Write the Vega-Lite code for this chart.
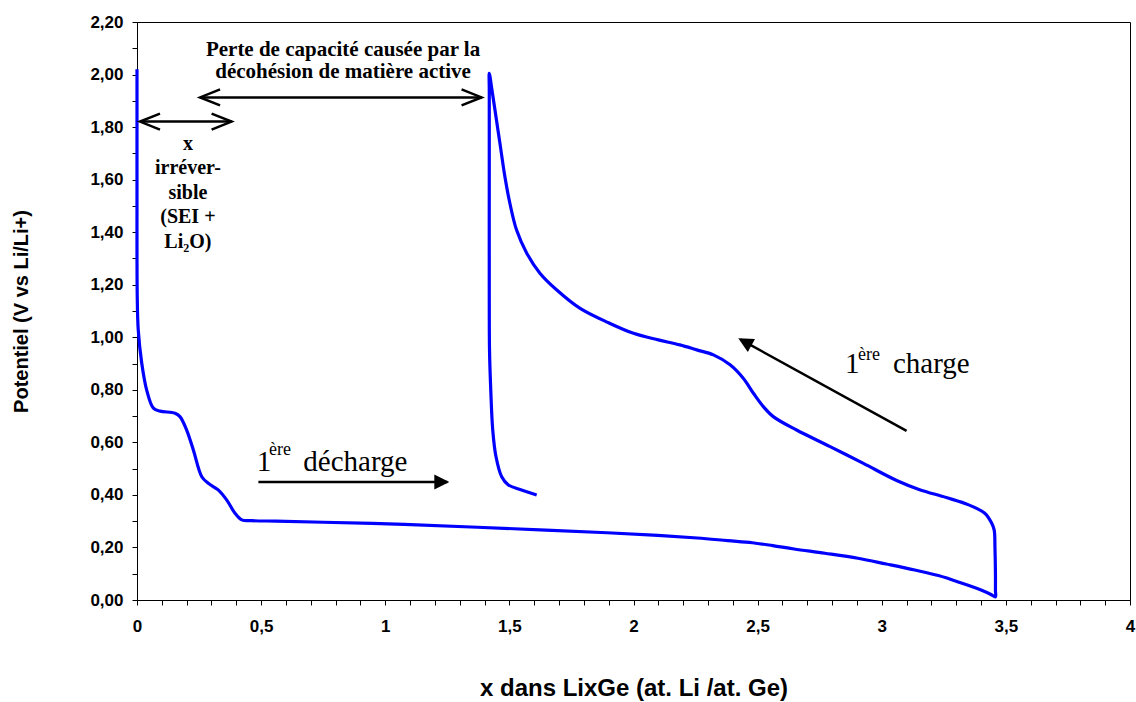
{
  "$schema": "https://vega.github.io/schema/vega-lite/v6.json",
  "width": 993,
  "height": 578,
  "autosize": {"type": "none"},
  "padding": {"left": 137, "top": 22, "right": 6, "bottom": 102},
  "background": "white",
  "config": {
    "view": {"stroke": "black", "strokeWidth": 1},
    "axis": {
      "labelFont": "Liberation Sans", "labelFontWeight": "bold", "labelFontSize": 17, "labelColor": "black",
      "titleFont": "Liberation Sans", "titleFontWeight": "bold", "titleColor": "black",
      "domainColor": "black", "tickColor": "black", "tickSize": 5, "grid": false,
      "labelOverlap": false, "labelFlush": false, "labelBound": false
    }
  },
  "datasets": {
    "curve": [
      {"i": 0, "x": 0, "y": 2.02}, {"i": 0.5, "x": 0, "y": 1.9}, {"i": 1, "x": 0, "y": 1.6}, {"i": 2, "x": 0.001, "y": 1.155},
      {"i": 3, "x": 0.005, "y": 1.028}, {"i": 4, "x": 0.019, "y": 0.902}, {"i": 5, "x": 0.039, "y": 0.799},
      {"i": 6, "x": 0.066, "y": 0.73}, {"i": 7, "x": 0.093, "y": 0.719}, {"i": 8, "x": 0.153, "y": 0.711},
      {"i": 9, "x": 0.173, "y": 0.698}, {"i": 10, "x": 0.2, "y": 0.647}, {"i": 11, "x": 0.227, "y": 0.571},
      {"i": 12, "x": 0.261, "y": 0.469}, {"i": 13, "x": 0.287, "y": 0.444}, {"i": 14, "x": 0.327, "y": 0.419},
      {"i": 15, "x": 0.361, "y": 0.381}, {"i": 16, "x": 0.395, "y": 0.33}, {"i": 17, "x": 0.422, "y": 0.305},
      {"i": 17.3, "x": 0.46, "y": 0.302}, {"i": 17.6, "x": 0.56, "y": 0.3},
      {"i": 18, "x": 0.75, "y": 0.296}, {"i": 19, "x": 1.076, "y": 0.288}, {"i": 20, "x": 1.371, "y": 0.277},
      {"i": 21, "x": 1.647, "y": 0.266}, {"i": 22, "x": 1.894, "y": 0.256}, {"i": 23, "x": 2.098, "y": 0.246},
      {"i": 24, "x": 2.257, "y": 0.236}, {"i": 25, "x": 2.38, "y": 0.226}, {"i": 26, "x": 2.479, "y": 0.218},
      {"i": 27, "x": 2.561, "y": 0.207}, {"i": 28, "x": 2.647, "y": 0.194}, {"i": 29, "x": 2.771, "y": 0.178},
      {"i": 30, "x": 2.904, "y": 0.159}, {"i": 31, "x": 3.018, "y": 0.137}, {"i": 32, "x": 3.133, "y": 0.114},
      {"i": 33, "x": 3.228, "y": 0.093}, {"i": 34, "x": 3.323, "y": 0.064}, {"i": 35, "x": 3.4, "y": 0.038},
      {"i": 35.5, "x": 3.44, "y": 0.021},
      {"i": 36, "x": 3.458, "y": 0.012}, {"i": 36.5, "x": 3.458, "y": 0.035}, {"i": 37, "x": 3.458, "y": 0.1}, {"i": 38, "x": 3.456, "y": 0.2},
      {"i": 39, "x": 3.453, "y": 0.266}, {"i": 40, "x": 3.443, "y": 0.292}, {"i": 41, "x": 3.415, "y": 0.33},
      {"i": 42, "x": 3.35, "y": 0.362}, {"i": 43, "x": 3.26, "y": 0.39}, {"i": 44, "x": 3.15, "y": 0.421},
      {"i": 45, "x": 3.06, "y": 0.455}, {"i": 46, "x": 2.926, "y": 0.52}, {"i": 47, "x": 2.792, "y": 0.584},
      {"i": 48, "x": 2.657, "y": 0.647}, {"i": 49, "x": 2.563, "y": 0.698}, {"i": 50, "x": 2.523, "y": 0.736},
      {"i": 51, "x": 2.483, "y": 0.787}, {"i": 52, "x": 2.442, "y": 0.844}, {"i": 53, "x": 2.389, "y": 0.895},
      {"i": 54, "x": 2.322, "y": 0.933}, {"i": 55, "x": 2.255, "y": 0.952}, {"i": 56, "x": 2.187, "y": 0.971},
      {"i": 57, "x": 2.1, "y": 0.99}, {"i": 58, "x": 2.0, "y": 1.015}, {"i": 59, "x": 1.9, "y": 1.055},
      {"i": 60, "x": 1.785, "y": 1.11}, {"i": 61, "x": 1.691, "y": 1.18}, {"i": 62, "x": 1.623, "y": 1.244},
      {"i": 63, "x": 1.57, "y": 1.32}, {"i": 64, "x": 1.529, "y": 1.408}, {"i": 65, "x": 1.502, "y": 1.51},
      {"i": 66, "x": 1.482, "y": 1.611}, {"i": 67, "x": 1.462, "y": 1.738}, {"i": 68, "x": 1.442, "y": 1.865},
      {"i": 68.5, "x": 1.43, "y": 1.94},
      {"i": 69, "x": 1.419, "y": 2.005}, {"i": 69.5, "x": 1.419, "y": 1.94}, {"i": 70, "x": 1.419, "y": 1.6}, {"i": 71, "x": 1.419, "y": 1.18},
      {"i": 72, "x": 1.42, "y": 0.952}, {"i": 73, "x": 1.425, "y": 0.8}, {"i": 74, "x": 1.433, "y": 0.647},
      {"i": 75, "x": 1.446, "y": 0.546}, {"i": 76, "x": 1.469, "y": 0.469}, {"i": 77, "x": 1.496, "y": 0.438},
      {"i": 78, "x": 1.543, "y": 0.421}, {"i": 79, "x": 1.61, "y": 0.4}
    ],
    "arrowLines": [
      {"x": 0.012, "y": 1.821, "x2": 0.381, "y2": 1.821},
      {"x": 0.254, "y": 1.913, "x2": 1.388, "y2": 1.913},
      {"x": 0.489, "y": 0.449, "x2": 1.25, "y2": 0.449},
      {"x": 3.1, "y": 0.644, "x2": 2.432, "y2": 0.991}
    ],
    "tipsLeft": [{"x": 0.012, "y": 1.821}, {"x": 0.254, "y": 1.913}],
    "tipsRight": [{"x": 0.381, "y": 1.821}, {"x": 1.388, "y": 1.913}],
    "tipDecharge": [{"x": 1.258, "y": 0.449}],
    "tipCharge": [{"x": 2.422, "y": 0.996}],
    "notesTop": [
      {"x": 0.83, "y": 2.071, "t": "Perte de capacité causée par la"},
      {"x": 0.83, "y": 1.986, "t": "décohésion de matière active"}
    ],
    "notes": [
      {"x": 0.205, "y": 1.713, "t": "x"},
      {"x": 0.205, "y": 1.62, "t": "irréver-"},
      {"x": 0.205, "y": 1.527, "t": "sible"},
      {"x": 0.205, "y": 1.434, "t": "(SEI +"},
      {"x": 0.205, "y": 1.34, "t": "Li₂O)"}
    ],
    "bigWords": [
      {"x": 0.482, "y": 0.492, "t": "1"},
      {"x": 0.67, "y": 0.492, "t": "décharge"},
      {"x": 2.852, "y": 0.864, "t": "1"},
      {"x": 3.045, "y": 0.864, "t": "charge"}
    ],
    "supWords": [
      {"x": 0.532, "y": 0.552, "t": "ère"},
      {"x": 2.904, "y": 0.914, "t": "ère"}
    ]
  },
  "encoding": {
    "x": {
      "field": "x", "type": "quantitative",
      "scale": {"domain": [0, 4], "nice": false, "zero": false},
      "axis": {
        "title": "x dans LixGe (at. Li /at. Ge)", "titleFontSize": 24, "titlePadding": 42,
        "values": [0, 0.1, 0.2, 0.3, 0.4, 0.5, 0.6, 0.7, 0.8, 0.9, 1, 1.1, 1.2, 1.3, 1.4, 1.5, 1.6, 1.7, 1.8, 1.9, 2, 2.1, 2.2, 2.3, 2.4, 2.5, 2.6, 2.7, 2.8, 2.9, 3, 3.1, 3.2, 3.3, 3.4, 3.5, 3.6, 3.7, 3.8, 3.9, 4],
        "labelExpr": "abs(datum.value*2 - round(datum.value*2)) < 0.001 ? replace(format(datum.value, '~g'), '.', ',') : ''",
        "labelPadding": 13
      }
    },
    "y": {
      "field": "y", "type": "quantitative",
      "scale": {"domain": [0, 2.2], "nice": false, "zero": false},
      "axis": {
        "title": "Potentiel (V vs Li/Li+)", "titleFontSize": 20, "titlePadding": 58,
        "values": [0, 0.1, 0.2, 0.3, 0.4, 0.5, 0.6, 0.7, 0.8, 0.9, 1, 1.1, 1.2, 1.3, 1.4, 1.5, 1.6, 1.7, 1.8, 1.9, 2, 2.1, 2.2],
        "labelExpr": "abs(datum.value*5 - round(datum.value*5)) < 0.001 ? replace(format(datum.value, '.2f'), '.', ',') : ''",
        "labelPadding": 9
      }
    }
  },
  "layer": [
    {
      "data": {"name": "curve"},
      "mark": {"type": "line", "color": "#0000FF", "strokeWidth": 3.2, "strokeJoin": "round", "interpolate": "catmull-rom"},
      "encoding": {"order": {"field": "i", "type": "quantitative"}}
    },
    {
      "data": {"name": "arrowLines"},
      "mark": {"type": "rule", "color": "black", "strokeWidth": 2.5},
      "encoding": {"x2": {"field": "x2"}, "y2": {"field": "y2"}}
    },
    {
      "data": {"name": "tipsLeft"},
      "mark": {"type": "point", "shape": "M 4 -1.6 L 0 0 L 4 1.6", "size": 100, "filled": false, "color": "black", "strokeWidth": 2.5, "opacity": 1, "strokeJoin": "miter"}
    },
    {
      "data": {"name": "tipsRight"},
      "mark": {"type": "point", "shape": "M -4 -1.6 L 0 0 L -4 1.6", "size": 100, "filled": false, "color": "black", "strokeWidth": 2.5, "opacity": 1, "strokeJoin": "miter"}
    },
    {
      "data": {"name": "tipDecharge"},
      "mark": {"type": "point", "shape": "M 0 0 L -3 -1.5 L -3 1.5 Z", "size": 100, "filled": true, "color": "black", "opacity": 1}
    },
    {
      "data": {"name": "tipCharge"},
      "mark": {"type": "point", "shape": "M 0 0 L -3 -1.5 L -3 1.5 Z", "size": 100, "filled": true, "color": "black", "opacity": 1, "angle": 208.76}
    },
    {
      "data": {"name": "notesTop"},
      "mark": {"type": "text", "font": "Liberation Serif", "fontWeight": "bold", "fontSize": 21, "align": "center", "baseline": "alphabetic", "color": "black"},
      "encoding": {"text": {"field": "t"}}
    },
    {
      "data": {"name": "notes"},
      "mark": {"type": "text", "font": "Liberation Serif", "fontWeight": "bold", "fontSize": 20, "align": "center", "baseline": "alphabetic", "color": "black"},
      "encoding": {"text": {"field": "t"}}
    },
    {
      "data": {"name": "bigWords"},
      "mark": {"type": "text", "font": "Liberation Serif", "fontSize": 29, "align": "left", "baseline": "alphabetic", "color": "black"},
      "encoding": {"text": {"field": "t"}}
    },
    {
      "data": {"name": "supWords"},
      "mark": {"type": "text", "font": "Liberation Serif", "fontSize": 18, "align": "left", "baseline": "alphabetic", "color": "black"},
      "encoding": {"text": {"field": "t"}}
    }
  ]
}
